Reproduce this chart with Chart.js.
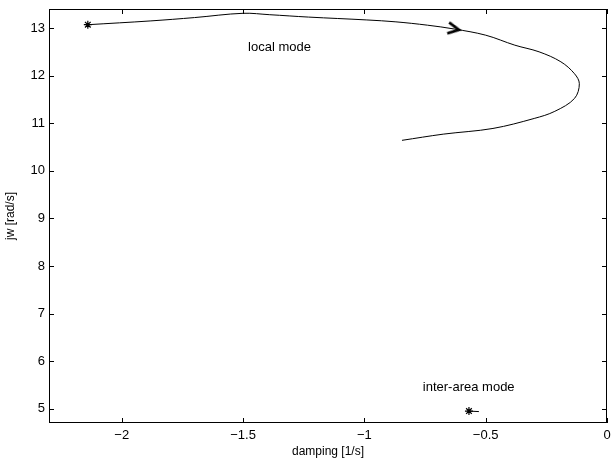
<!DOCTYPE html>
<html>
<head>
<meta charset="utf-8">
<script src="https://cdn.jsdelivr.net/npm/chart.js@4/dist/chart.umd.min.js"></script>
<style>
  html, body { margin: 0; padding: 0; background: #fff; }
  #wrap { width: 616px; height: 461px; }
</style>
</head>
<body>
<div id="wrap"><canvas id="c" width="616" height="461"></canvas></div>
<script>
// ---- data ----
const localDamping = [-2.14, -1.88, -1.70, -1.50, -1.39, -1.23, -0.99, -0.87, -0.74, -0.63, -0.50, -0.38, -0.28, -0.19, -0.134, -0.114, -0.134, -0.215, -0.30, -0.47, -0.675, -0.845];
const localFreq    = [13.07, 13.15, 13.22, 13.31, 13.28, 13.23, 13.17, 13.13, 13.06, 12.98, 12.85, 12.64, 12.50, 12.29, 12.04, 11.83, 11.52, 11.25, 11.10, 10.89, 10.77, 10.64];
const interDamping = [-0.569, -0.528];
const interFreq    = [4.95, 4.94];
const arrowDamping = [-0.63];
const arrowFreq    = [12.98];
const xTicks = [-2, -1.5, -1, -0.5, 0];
const yTicks = [5, 6, 7, 8, 9, 10, 11, 12, 13];
const labelTexts = ['local mode', 'inter-area mode'];
const labelDamping = [-1.35, -0.57];
const labelFreq = [12.6, 5.44];

const FONT = "'Liberation Sans', Arial, Helvetica, sans-serif";

function pts(xs, ys) { return xs.map((x, i) => ({ x: x, y: ys[i] })); }

// chevron arrow marker
const arrowCanvas = document.createElement('canvas');
arrowCanvas.width = 16; arrowCanvas.height = 16;
(function () {
  const g = arrowCanvas.getContext('2d');
  g.strokeStyle = '#000'; g.lineWidth = 2.6; g.lineJoin = 'miter'; g.lineCap = 'butt';
  g.beginPath(); g.moveTo(2, 2.5); g.lineTo(13, 8); g.lineTo(2, 13.5); g.stroke();
})();

const framePlugin = {
  id: 'frame',
  afterDatasetsDraw(chart) {
    const { ctx, chartArea: a, scales } = chart;
    ctx.save();
    ctx.strokeStyle = '#000';
    ctx.lineWidth = 1;
    ctx.strokeRect(a.left + 0.5, a.top + 0.5, a.right - a.left - 1, a.bottom - a.top - 1);
    const L = 5;
    ctx.beginPath();
    scales.x.ticks.forEach(t => {
      const px = Math.round(scales.x.getPixelForValue(t.value)) + 0.5;
      ctx.moveTo(px, a.bottom); ctx.lineTo(px, a.bottom - L);
      ctx.moveTo(px, a.top); ctx.lineTo(px, a.top + L);
    });
    scales.y.ticks.forEach(t => {
      const py = Math.round(scales.y.getPixelForValue(t.value)) + 0.5;
      ctx.moveTo(a.left, py); ctx.lineTo(a.left + L, py);
      ctx.moveTo(a.right, py); ctx.lineTo(a.right - L, py);
    });
    ctx.stroke();
    ctx.fillStyle = '#000';
    ctx.font = '13px ' + FONT;
    ctx.textAlign = 'center';
    ctx.textBaseline = 'middle';
    labelTexts.forEach((s, i) => {
      ctx.fillText(s, scales.x.getPixelForValue(labelDamping[i]), scales.y.getPixelForValue(labelFreq[i]));
    });
    ctx.restore();
  }
};

new Chart(document.getElementById('c'), {
  type: 'scatter',
  data: {
    datasets: [
      {
        data: pts(localDamping, localFreq),
        showLine: true, tension: 0.35, borderColor: '#000', borderWidth: 1,
        pointRadius: ctx => ctx.dataIndex === 0 ? 4 : 0,
        pointStyle: 'star', pointBorderColor: '#000', pointBorderWidth: 1.2
      },
      {
        data: pts(interDamping, interFreq),
        showLine: true, borderColor: '#000', borderWidth: 1,
        pointRadius: ctx => ctx.dataIndex === 0 ? 4 : 0,
        pointStyle: 'star', pointBorderColor: '#000', pointBorderWidth: 1.2
      },
      {
        data: pts(arrowDamping, arrowFreq),
        showLine: false, pointStyle: arrowCanvas, pointRotation: 10, pointRadius: 8
      }
    ]
  },
  options: {
    responsive: false,
    animation: false,
    events: [],
    layout: { padding: { top: 7, right: 4, left: 0, bottom: 0 } },
    plugins: { legend: { display: false }, tooltip: { enabled: false } },
    scales: {
      x: {
        type: 'linear', min: -2.3, max: 0,
        afterBuildTicks: s => { s.ticks = xTicks.map(v => ({ value: v })); },
        afterFit: s => { s.height = 38; s.paddingLeft = 0; s.paddingRight = 0; },
        grid: { display: false, drawTicks: false },
        border: { display: false },
        ticks: {
          color: '#000', font: { family: FONT, size: 13 }, padding: 5, maxRotation: 0,
          callback: v => String(v).replace('-', '\u2212')
        },
        title: { display: true, text: 'damping [1/s]', color: '#000', font: { family: FONT, size: 12 }, padding: { top: 0, bottom: 2 } }
      },
      y: {
        type: 'linear', min: 4.7, max: 13.4,
        afterBuildTicks: s => { s.ticks = yTicks.map(v => ({ value: v })); },
        afterFit: s => { s.width = 49; s.paddingTop = 0; s.paddingBottom = 0; },
        grid: { display: false, drawTicks: false },
        border: { display: false },
        ticks: { color: '#000', font: { family: FONT, size: 13 }, padding: 4 },
        title: { display: true, text: 'jw [rad/s]', color: '#000', font: { family: FONT, size: 12 }, padding: { top: 3, bottom: 0 } }
      }
    }
  },
  plugins: [framePlugin]
});
</script>
</body>
</html>
